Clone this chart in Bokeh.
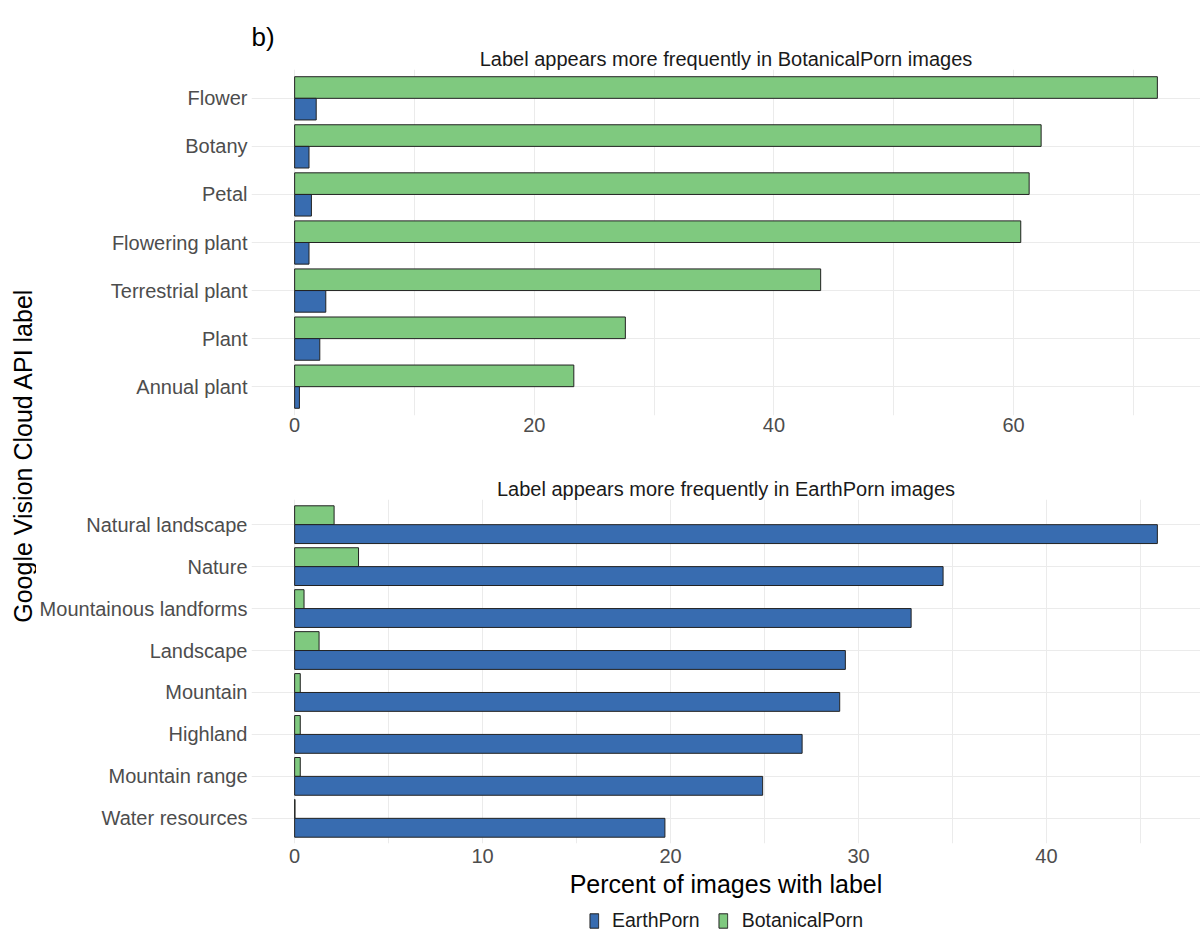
from bokeh.plotting import figure
from bokeh.models import (ColumnDataSource, Range1d, FactorRange, FixedTicker, Label,
                          Legend, LegendItem, Title)
from bokeh.transform import dodge
from bokeh.layouts import row, column
from bokeh.embed import file_html
from bokeh.resources import INLINE
import math

# ---------------- data ----------------
top_labels = ["Flower", "Botany", "Petal", "Flowering plant", "Terrestrial plant", "Plant", "Annual plant"]
top_earth = [1.8, 1.2, 1.4, 1.2, 2.6, 2.1, 0.4]
top_botanical = [72.0, 62.3, 61.3, 60.6, 43.9, 27.6, 23.3]

bottom_labels = ["Natural landscape", "Nature", "Mountainous landforms", "Landscape",
                 "Mountain", "Highland", "Mountain range", "Water resources"]
bottom_earth = [45.9, 34.5, 32.8, 29.3, 29.0, 27.0, 24.9, 19.7]
bottom_botanical = [2.1, 3.4, 0.5, 1.3, 0.3, 0.3, 0.3, 0.02]

panel_tag = "b)"
top_title = "Label appears more frequently in BotanicalPorn images"
bottom_title = "Label appears more frequently in EarthPorn images"
x_title = "Percent of images with label"
y_title = "Google Vision Cloud API label"
series_names = ["EarthPorn", "BotanicalPorn"]

top_major = [0, 20, 40, 60]
top_minor = [10, 30, 50, 70]
bottom_major = [0, 10, 20, 30, 40]
bottom_minor = [5, 15, 25, 35, 45]

BLUE = "#386CB0"
GREEN = "#7FC97F"
FONT = "Liberation Sans"
GRID = "#EBEBEB"
TICK = "#4D4D4D"
EDGE = "#222222"

STRIP = 36      # width of the strip holding the y title
LEFT = 215      # left border of each panel (room for category labels)
W = 1200 - STRIP


def panel(labels, earth, botanical, major, minor, title, width, height,
          mb_top, mb_bottom, mb_left):
    xmax = max(max(earth), max(botanical))
    pad = xmax * 0.05
    yr = FactorRange(factors=list(reversed(labels)), range_padding=0.1,
                     range_padding_units="absolute")
    p = figure(width=width, height=height, y_range=yr, x_range=Range1d(-pad, xmax + pad),
               output_backend="svg", toolbar_location=None,
               min_border_top=mb_top, min_border_bottom=mb_bottom,
               min_border_left=mb_left, min_border_right=0)
    p.outline_line_color = None
    p.add_layout(Title(text=title, align="center", text_font=FONT, text_font_size="20px",
                       text_font_style="normal", text_color="#1a1a1a", standoff=0), "above")

    src = ColumnDataSource(dict(y=labels, earth=earth, botanical=botanical))
    g = p.hbar(y=dodge("y", 0.225, range=p.y_range), left=0, right="botanical", height=0.45,
               source=src, fill_color=GREEN, line_color=EDGE, line_width=1)
    b = p.hbar(y=dodge("y", -0.225, range=p.y_range), left=0, right="earth", height=0.45,
               source=src, fill_color=BLUE, line_color=EDGE, line_width=1)

    p.xaxis.ticker = FixedTicker(ticks=major, minor_ticks=minor)
    for ax in (p.xaxis, p.yaxis):
        ax.axis_line_color = None
        ax.major_tick_line_color = None
        ax.minor_tick_line_color = None
        ax.major_tick_out = 0
        ax.major_tick_in = 0
        ax.minor_tick_out = 0
        ax.minor_tick_in = 0
        ax.major_label_text_font = FONT
        ax.major_label_text_font_size = "20px"
        ax.major_label_text_color = TICK
    p.yaxis.major_label_standoff = 4
    p.xaxis.major_label_standoff = 2
    p.xgrid.grid_line_color = GRID
    p.xgrid.minor_grid_line_color = GRID
    p.ygrid.grid_line_color = GRID
    return p, g, b


top, _, _ = panel(top_labels, top_earth, top_botanical, top_major, top_minor, top_title,
                  W, 440, 69, 25, LEFT)
top.add_layout(Title(text=panel_tag, align="left", text_font=FONT, text_font_size="26px",
                     text_font_style="normal", text_color="#000000", standoff=-12), "above")

bottom, _, _ = panel(bottom_labels, bottom_earth, bottom_botanical, bottom_major,
                     bottom_minor, bottom_title, W, 466, 59, 63, LEFT)
bottom.xaxis.major_label_standoff = 5
bottom.xaxis.axis_label = x_title
bottom.xaxis.axis_label_text_font = FONT
bottom.xaxis.axis_label_text_font_size = "25px"
bottom.xaxis.axis_label_text_font_style = "normal"
bottom.xaxis.axis_label_text_color = "#000000"
bottom.xaxis.axis_label_standoff = 4

# legend strip (legend keys only; its renderers hold no drawable values)
leg = figure(width=W, height=28, x_range=Range1d(0, 1), y_range=Range1d(0, 1),
             output_backend="svg", toolbar_location=None, x_axis_type=None, y_axis_type=None,
             min_border=0, min_border_left=LEFT)
leg.outline_line_color = None
leg.grid.visible = False
nan = float("nan")
keys = ColumnDataSource(dict(y=[nan], right=[nan]))
lb = leg.hbar(y="y", right="right", left=0, height=0.5, source=keys,
              fill_color=BLUE, line_color=EDGE)
lg = leg.hbar(y="y", right="right", left=0, height=0.5, source=keys,
              fill_color=GREEN, line_color=EDGE)
legend = Legend(items=[LegendItem(label=series_names[0], renderers=[lb]),
                       LegendItem(label=series_names[1], renderers=[lg])],
                orientation="horizontal", location="center",
                label_text_font=FONT, label_text_font_size="19.5px", label_text_color="#1a1a1a",
                glyph_width=11, glyph_height=18, label_standoff=13, spacing=18,
                margin=0, padding=2, border_line_color=None, background_fill_alpha=0)
leg.add_layout(legend, "center")

# left strip holding the shared y-axis title
lab = figure(width=STRIP, height=934, x_range=Range1d(0, 1), y_range=Range1d(0, 1),
             output_backend="svg", toolbar_location=None, x_axis_type=None, y_axis_type=None,
             min_border=0)
lab.outline_line_color = None
lab.grid.visible = False
lab.add_layout(Label(x=22 / STRIP, y=(934 - 455) / 934, text=y_title, angle=math.pi / 2,
                     text_font=FONT, text_font_size="25px", text_color="#000000",
                     text_align="center", text_baseline="middle"))

layout = row(lab, column(top, bottom, leg))
open("out.html", "w").write(file_html(layout, INLINE))
